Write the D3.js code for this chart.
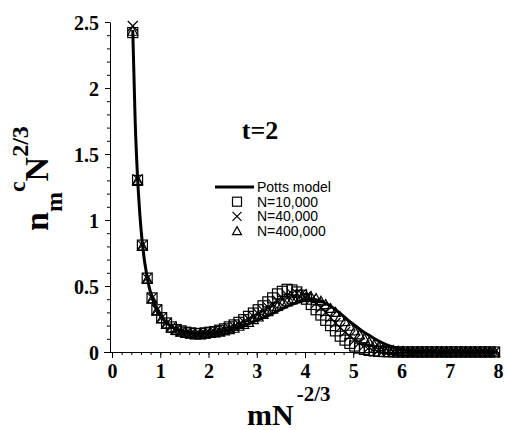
<!DOCTYPE html>
<html>
<head>
<meta charset="utf-8">
<script src="https://cdn.jsdelivr.net/npm/d3@7"></script>
<style>
  body { margin: 0; background: #fff; }
  svg { display: block; }
  .tick text { font-family: "Liberation Serif", "Times New Roman", serif; font-weight: bold; font-size: 20px; fill: #000; }
  .legend text { font-family: "Liberation Sans", Arial, sans-serif; font-size: 14px; fill: #000; }
</style>
</head>
<body>
<div id="chart"></div>
<script>
// x positions shared by the three simulation series (mN^-2/3)
const xs = [0.43, 0.53, 0.63, 0.73, 0.83, 0.93, 1.03, 1.13, 1.23, 1.33,
  1.43, 1.53, 1.63, 1.73, 1.83, 1.93, 2.03, 2.13, 2.23, 2.33,
  2.43, 2.53, 2.63, 2.73, 2.83, 2.93, 3.03, 3.13, 3.23, 3.33,
  3.43, 3.53, 3.63, 3.73, 3.83, 3.93, 4.03, 4.13, 4.23, 4.33,
  4.43, 4.53, 4.63, 4.73, 4.83, 4.93, 5.03, 5.13, 5.23, 5.33,
  5.43, 5.53, 5.63, 5.73, 5.83, 5.93, 6.03, 6.13, 6.23, 6.33,
  6.43, 6.53, 6.63, 6.73, 6.83, 6.93, 7.03, 7.13, 7.23, 7.33,
  7.43, 7.53, 7.63, 7.73, 7.83, 7.93];

const n10k = [2.42, 1.30, 0.81, 0.56, 0.41, 0.32, 0.26, 0.22, 0.19, 0.17,
  0.16, 0.15, 0.145, 0.14, 0.14, 0.145, 0.15, 0.155, 0.165, 0.175,
  0.19, 0.205, 0.225, 0.245, 0.27, 0.295, 0.32, 0.35, 0.38, 0.41,
  0.44, 0.46, 0.475, 0.47, 0.455, 0.43, 0.40, 0.36, 0.32, 0.28,
  0.24, 0.20, 0.16, 0.12, 0.09, 0.065, 0.045, 0.03, 0.02, 0.012,
  0.008, 0.005, 0.003, 0.002, 0.001, 0, 0, 0, 0, 0,
  0, 0, 0, 0, 0, 0, 0, 0, 0, 0,
  0, 0, 0, 0, 0, 0];

const n40k = [2.47, 1.31, 0.81, 0.56, 0.41, 0.32, 0.26, 0.22, 0.19, 0.17,
  0.155, 0.145, 0.14, 0.135, 0.135, 0.14, 0.145, 0.15, 0.16, 0.17,
  0.18, 0.195, 0.21, 0.23, 0.25, 0.27, 0.29, 0.315, 0.34, 0.365,
  0.39, 0.41, 0.43, 0.44, 0.445, 0.44, 0.425, 0.40, 0.37, 0.335,
  0.30, 0.26, 0.22, 0.185, 0.15, 0.12, 0.09, 0.07, 0.05, 0.035,
  0.025, 0.015, 0.01, 0.006, 0.004, 0.002, 0, 0, 0, 0,
  0, 0, 0, 0, 0, 0, 0, 0, 0, 0,
  0, 0, 0, 0, 0, 0];

const n400k = [2.43, 1.30, 0.80, 0.55, 0.40, 0.31, 0.25, 0.21, 0.18, 0.165,
  0.15, 0.14, 0.135, 0.13, 0.13, 0.135, 0.14, 0.145, 0.15, 0.16,
  0.17, 0.18, 0.195, 0.21, 0.225, 0.245, 0.265, 0.285, 0.305, 0.325,
  0.345, 0.365, 0.38, 0.395, 0.405, 0.415, 0.42, 0.415, 0.405, 0.385,
  0.36, 0.33, 0.30, 0.265, 0.23, 0.195, 0.16, 0.13, 0.10, 0.075,
  0.055, 0.04, 0.028, 0.018, 0.011, 0.006, 0.003, 0.001, 0, 0,
  0, 0, 0, 0, 0, 0, 0, 0, 0, 0,
  0, 0, 0, 0, 0, 0];

// Potts model curve
const pottsX = [0.43, 0.48, 0.53, 0.58, 0.63, 0.73, 0.83, 0.93, 1.03, 1.2,
  1.4, 1.6, 1.8, 2.0, 2.2, 2.4, 2.6, 2.8, 3.0, 3.2,
  3.4, 3.6, 3.8, 4.0, 4.2, 4.4, 4.6, 4.8, 5.0, 5.2,
  5.4, 5.6, 5.8, 6.0, 6.2, 6.5, 7.0, 7.5, 8.0];
const pottsY = [2.44, 1.75, 1.32, 1.03, 0.82, 0.56, 0.41, 0.32, 0.26, 0.2,
  0.165, 0.145, 0.138, 0.14, 0.15, 0.165, 0.185, 0.21, 0.24, 0.27,
  0.305, 0.34, 0.37, 0.39, 0.395, 0.375, 0.33, 0.27, 0.21, 0.155,
  0.11, 0.07, 0.04, 0.02, 0.008, 0.002, 0, 0, 0];

const xTicks = [0, 1, 2, 3, 4, 5, 6, 7, 8];
const yTicks = [0, 0.5, 1, 1.5, 2, 2.5];
const legendLabels = ['Potts model', 'N=10,000', 'N=40,000', 'N=400,000'];

const width = 507;
const height = 430;
const serif = '"Liberation Serif", "Times New Roman", serif';

const svg = d3.select('#chart')
  .append('svg')
  .attr('width', width)
  .attr('height', height);

const x = d3.scaleLinear().domain([0, 8]).range([112, 498]);
const y = d3.scaleLinear().domain([0, 2.5]).range([352, 22]);

// minor ticks first
svg.append('g')
  .attr('transform', `translate(0, ${y(0)})`)
  .call(d3.axisBottom(x).tickValues(d3.range(0, 8.01, 0.2)).tickSize(3).tickFormat(''))
  .call(g => g.select('.domain').remove());

svg.append('g')
  .attr('transform', `translate(${x(0) - 2}, 0)`)
  .call(d3.axisLeft(y).tickValues(d3.range(0, 2.51, 0.1)).tickSize(3).tickFormat(''))
  .call(g => g.select('.domain').remove());

const xAxis = svg.append('g')
  .attr('transform', `translate(0, ${y(0)})`)
  .call(d3.axisBottom(x).tickValues(xTicks).tickSize(6).tickSizeOuter(0).tickPadding(6).tickFormat(d3.format('d')));

const yAxis = svg.append('g')
  .attr('transform', `translate(${x(0) - 2}, 0)`)
  .call(d3.axisLeft(y).tickValues(yTicks).tickSize(5).tickSizeOuter(0).tickPadding(6).tickFormat(d => String(d)));

svg.selectAll('.domain, .tick line').attr('stroke', '#000');
yAxis.selectAll('.tick text').attr('dy', '0.35em');
xAxis.select('.domain').attr('d', `M${x(0) - 8},0.5H${x(8) + 2}`);

// Potts model line
const line = d3.line()
  .x((d, i) => x(pottsX[i]))
  .y(d => y(d))
  .curve(d3.curveMonotoneX);

svg.append('path')
  .datum(pottsY)
  .attr('fill', 'none')
  .attr('stroke', '#000')
  .attr('stroke-width', 3)
  .attr('stroke-linejoin', 'round')
  .attr('d', line);

// markers
function square(sel, s) {
  sel.append('rect')
    .attr('x', -s / 2).attr('y', -s / 2)
    .attr('width', s).attr('height', s)
    .attr('fill', 'none').attr('stroke', '#000').attr('stroke-width', 1.2);
}
function cross(sel, s) {
  sel.append('path')
    .attr('d', `M${-s / 2},${-s / 2}L${s / 2},${s / 2}M${-s / 2},${s / 2}L${s / 2},${-s / 2}`)
    .attr('fill', 'none').attr('stroke', '#000').attr('stroke-width', 1.2);
}
function triangle(sel, s) {
  sel.append('path')
    .attr('d', `M0,${-s / 2}L${s / 2},${s / 2 - 1}L${-s / 2},${s / 2 - 1}Z`)
    .attr('fill', 'none').attr('stroke', '#000').attr('stroke-width', 1.2);
}

const series = [
  { values: n10k, draw: square },
  { values: n40k, draw: cross },
  { values: n400k, draw: triangle },
];

series.forEach((s) => {
  svg.append('g')
    .selectAll('g')
    .data(s.values)
    .join('g')
    .attr('transform', (d, i) => `translate(${x(xs[i])}, ${y(d)})`)
    .each(function () { s.draw(d3.select(this), 10); });
});

// annotation
svg.append('text')
  .attr('x', 260)
  .attr('y', 139)
  .attr('text-anchor', 'middle')
  .style('font-family', serif)
  .style('font-weight', 'bold')
  .style('font-size', '26px')
  .text('t=2');

// legend
const legend = svg.append('g').attr('class', 'legend');
legend.append('line')
  .attr('x1', 215).attr('x2', 254)
  .attr('y1', 187).attr('y2', 187)
  .attr('stroke', '#000').attr('stroke-width', 3);
const markerFns = [square, cross, triangle];
legendLabels.forEach((lbl, i) => {
  legend.append('text')
    .attr('x', 257)
    .attr('y', 192 + i * 14.7)
    .text(lbl);
  if (i > 0) {
    const g = legend.append('g').attr('transform', `translate(237, ${187 + i * 14.7})`);
    markerFns[i - 1](g, 9);
  }
});

// axis titles
const xTitle = svg.append('text')
  .attr('x', 247)
  .attr('y', 425)
  .style('font-family', serif)
  .style('font-weight', 'bold')
  .style('font-size', '30px');
xTitle.append('tspan').text('mN');
xTitle.append('tspan').attr('dx', 3).attr('dy', -24).style('font-size', '21px').text('-2/3');

const yTitle = svg.append('text')
  .attr('transform', 'translate(48, 231) rotate(-90)')
  .style('font-family', serif)
  .style('font-weight', 'bold')
  .style('font-size', '34px');
yTitle.append('tspan').text('n');
yTitle.append('tspan').attr('dy', 14).style('font-size', '24px').text('m');
yTitle.append('tspan').attr('dy', -37).style('font-size', '24px').text('c');
yTitle.append('tspan').attr('dy', 23).text('N');
yTitle.append('tspan').attr('dy', -20).style('font-size', '24px').text('2/3');
</script>
</body>
</html>
